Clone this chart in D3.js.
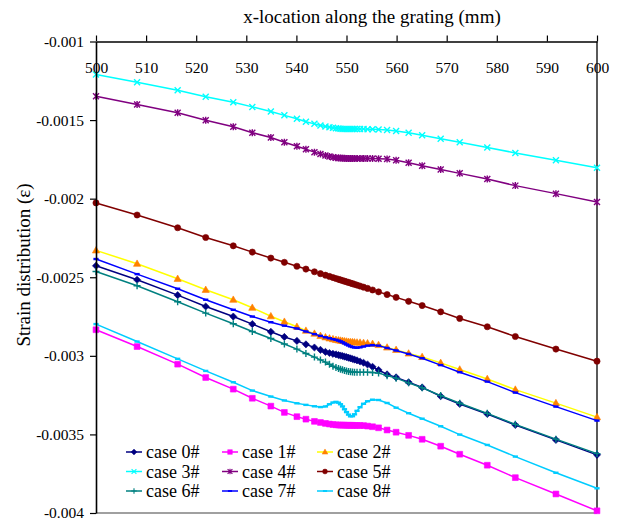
<!DOCTYPE html>
<html>
<head>
<meta charset="utf-8">
<script src="https://cdn.jsdelivr.net/npm/d3@7"></script>
<style>
    body { margin: 0; background: #fff; }
    svg { display: block; font-family: "Liberation Serif", "Times New Roman", serif; }
</style>
</head>
<body>
<div id="chart"></div>
<script>
//-----------------------------Data
// node positions along the grating (mm)
var xLoc = [500, 508.2, 516.3, 521.9, 527.4, 531.2, 534.9, 537.6, 540.1, 541.9,
    543.6, 544.8, 545.8, 546.6, 547.3, 547.9, 548.4, 548.8, 549.2, 549.6,
    550, 550.4, 550.8, 551.2, 551.6, 552.1, 552.7, 553.4, 554.2, 555.2,
    556.4, 558.1, 559.9, 562.4, 565.1, 568.8, 572.6, 578.1, 583.7, 591.8, 600];

var case0 = [-0.002427, -0.002516, -0.002614, -0.002686, -0.002750, -0.002798, -0.002847, -0.002880, -0.002905, -0.002927,
    -0.002947, -0.002962, -0.002975, -0.002982, -0.002987, -0.002991, -0.002995, -0.002998, -0.003001, -0.003005,
    -0.003008, -0.003012, -0.003016, -0.003020, -0.003024, -0.003029, -0.003036, -0.003044, -0.003055, -0.003070,
    -0.003090, -0.003118, -0.003137, -0.003168, -0.003201, -0.003257, -0.003306, -0.003370, -0.003440, -0.003535, -0.003630];
var case1 = [-0.002834, -0.002941, -0.003053, -0.003138, -0.003212, -0.003270, -0.003320, -0.003360, -0.003387, -0.003403,
    -0.003417, -0.003424, -0.003430, -0.003434, -0.003437, -0.003439, -0.003440, -0.003441, -0.003441, -0.003441,
    -0.003442, -0.003442, -0.003442, -0.003442, -0.003443, -0.003443, -0.003443, -0.003444, -0.003447, -0.003451,
    -0.003458, -0.003472, -0.003486, -0.003506, -0.003531, -0.003575, -0.003626, -0.003696, -0.003775, -0.003879, -0.003986];
var case2 = [-0.002329, -0.002414, -0.002510, -0.002580, -0.002643, -0.002694, -0.002748, -0.002783, -0.002815, -0.002840,
    -0.002859, -0.002873, -0.002882, -0.002889, -0.002894, -0.002898, -0.002901, -0.002903, -0.002905, -0.002907,
    -0.002909, -0.002911, -0.002912, -0.002913, -0.002914, -0.002915, -0.002916, -0.002918, -0.002920, -0.002924,
    -0.002931, -0.002947, -0.002962, -0.002985, -0.003007, -0.003045, -0.003087, -0.003147, -0.003215, -0.003301, -0.003390];
var case3 = [-0.001210, -0.001259, -0.001310, -0.001352, -0.001386, -0.001416, -0.001445, -0.001470, -0.001492, -0.001510,
    -0.001524, -0.001534, -0.001541, -0.001546, -0.001549, -0.001552, -0.001554, -0.001555, -0.001556, -0.001556,
    -0.001557, -0.001557, -0.001557, -0.001557, -0.001557, -0.001557, -0.001557, -0.001557, -0.001558, -0.001559,
    -0.001560, -0.001563, -0.001569, -0.001581, -0.001596, -0.001619, -0.001641, -0.001674, -0.001709, -0.001756, -0.001803];
var case4 = [-0.001348, -0.001401, -0.001454, -0.001501, -0.001543, -0.001580, -0.001611, -0.001641, -0.001667, -0.001686,
    -0.001704, -0.001716, -0.001726, -0.001732, -0.001736, -0.001739, -0.001741, -0.001742, -0.001743, -0.001743,
    -0.001744, -0.001744, -0.001744, -0.001744, -0.001744, -0.001744, -0.001744, -0.001744, -0.001745, -0.001745,
    -0.001746, -0.001748, -0.001756, -0.001772, -0.001790, -0.001814, -0.001839, -0.001875, -0.001917, -0.001968, -0.002021];
var case5 = [-0.002027, -0.002104, -0.002185, -0.002247, -0.002300, -0.002340, -0.002378, -0.002405, -0.002430, -0.002448,
    -0.002465, -0.002477, -0.002487, -0.002495, -0.002502, -0.002508, -0.002513, -0.002517, -0.002521, -0.002525,
    -0.002529, -0.002533, -0.002537, -0.002541, -0.002545, -0.002550, -0.002556, -0.002563, -0.002571, -0.002581,
    -0.002593, -0.002610, -0.002628, -0.002653, -0.002680, -0.002720, -0.002762, -0.002815, -0.002877, -0.002957, -0.003034];
var case6 = [-0.002463, -0.002554, -0.002656, -0.002728, -0.002796, -0.002845, -0.002890, -0.002925, -0.002957, -0.002985,
    -0.003008, -0.003026, -0.003040, -0.003054, -0.003066, -0.003074, -0.003080, -0.003085, -0.003089, -0.003093,
    -0.003096, -0.003099, -0.003101, -0.003103, -0.003104, -0.003105, -0.003105, -0.003105, -0.003105, -0.003106,
    -0.003110, -0.003126, -0.003142, -0.003172, -0.003203, -0.003253, -0.003302, -0.003366, -0.003436, -0.003530, -0.003622];
var case7 = [-0.002384, -0.002480, -0.002573, -0.002643, -0.002707, -0.002750, -0.002786, -0.002808, -0.002826, -0.002845,
    -0.002862, -0.002873, -0.002882, -0.002888, -0.002894, -0.002898, -0.002903, -0.002908, -0.002914, -0.002921,
    -0.002928, -0.002934, -0.002940, -0.002944, -0.002947, -0.002948, -0.002946, -0.002941, -0.002935, -0.002932,
    -0.002935, -0.002950, -0.002966, -0.002988, -0.003015, -0.003059, -0.003104, -0.003164, -0.003234, -0.003323, -0.003412];
var case8 = [-0.002798, -0.002909, -0.003019, -0.003096, -0.003168, -0.003221, -0.003259, -0.003284, -0.003302, -0.003312,
    -0.003321, -0.003326, -0.003322, -0.003308, -0.003297, -0.003293, -0.003298, -0.003308, -0.003322, -0.003340,
    -0.003358, -0.003374, -0.003385, -0.003384, -0.003372, -0.003350, -0.003327, -0.003305, -0.003289, -0.003279,
    -0.003281, -0.003300, -0.003330, -0.003365, -0.003400, -0.003448, -0.003501, -0.003567, -0.003641, -0.003744, -0.003843];

var caseNames = ["case 0#", "case 1#", "case 2#", "case 3#", "case 4#", "case 5#", "case 6#", "case 7#", "case 8#"];
var xTicks = [500, 510, 520, 530, 540, 550, 560, 570, 580, 590, 600];
var yTicks = [-0.001, -0.0015, -0.002, -0.0025, -0.003, -0.0035, -0.004];
var yTickLabels = ["-0.001", "-0.0015", "-0.002", "-0.0025", "-0.003", "-0.0035", "-0.004"];

//-----------------------------Styles
var lineColors = ["#000080", "#FF00FF", "#FFFF00", "#00FFFF", "#800080", "#800000", "#008080", "#0000FF", "#00CCFF"];
var markColors = ["#000080", "#FF00FF", "#FF8000", "#00FFFF", "#800080", "#800000", "#008080", "#0000FF", "#00CCFF"];
var markTypes = ["diamond", "square", "triangle", "x", "asterisk", "circle", "plus", "dash", "dash"];

var w = 618;
var h = 518;
var plotLeft = 96;
var plotRight = 597;
var plotTop = 41.5;
var plotBottom = 513;

var allCases = [case0, case1, case2, case3, case4, case5, case6, case7, case8];
var series = allCases.map(function(vals, i) {
    return {
        name: caseNames[i],
        points: xLoc.map(function(x, j) { return { x: x, y: vals[j] }; }),
        color: lineColors[i],
        mColor: markColors[i],
        mark: markTypes[i]
    };
});

var x = d3.scaleLinear().domain([500, 600]).range([plotLeft, plotRight]);
var y = d3.scaleLinear().domain([-0.001, -0.004]).range([plotTop, plotBottom]);

var svg = d3.select("#chart")
    .append("svg")
    .attr("width", w)
    .attr("height", h);

// marker shapes, filled ones and stroked ones
function markPath(type) {
    switch (type) {
        case "diamond": return "M0,-3.6L3.6,0L0,3.6L-3.6,0Z";
        case "square": return "M-2.9,-2.9H2.9V2.9H-2.9Z";
        case "triangle": return "M0,-3.8L3.6,2.6L-3.6,2.6Z";
        case "circle": return "M3.1,0A3.1,3.1 0 1,1 -3.1,0A3.1,3.1 0 1,1 3.1,0Z";
        case "x": return "M-3,-3L3,3M-3,3L3,-3";
        case "asterisk": return "M-3,-3L3,3M-3,3L3,-3M0,-3.5V3.5";
        case "plus": return "M-3.5,0H3.5M0,-3.5V3.5";
        case "dash": return "M-2.6,0H2.6";
    }
}

function isFilled(type) {
    return type == "diamond" || type == "square" || type == "triangle" || type == "circle";
}

function drawMark(g, type, color) {
    g.append("path")
        .attr("d", markPath(type))
        .attr("fill", isFilled(type) ? color : "none")
        .attr("stroke", color)
        .attr("stroke-width", isFilled(type) ? 0.6 : (type == "dash" ? 2.4 : 1.4));
}

//-----------------------------Frame
svg.append("line")
    .attr("x1", plotLeft).attr("x2", plotRight)
    .attr("y1", plotBottom).attr("y2", plotBottom)
    .attr("stroke", "#808080")
    .attr("stroke-width", 1.5);
svg.append("line")
    .attr("x1", plotRight).attr("x2", plotRight)
    .attr("y1", plotTop).attr("y2", plotBottom)
    .attr("stroke", "#000")
    .attr("stroke-width", 1.3);

//-----------------------------Series
var line = d3.line()
    .x(function(d) { return x(d.x); })
    .y(function(d) { return y(d.y); });

series.forEach(function(s) {
    var g = svg.append("g");
    g.append("path")
        .datum(s.points)
        .attr("d", line)
        .attr("fill", "none")
        .attr("stroke", s.color)
        .attr("stroke-width", 1.5);
    g.selectAll("g.mark")
        .data(s.points)
        .enter()
        .append("g")
        .attr("class", "mark")
        .attr("transform", function(d) {
            return "translate(" + x(d.x) + "," + y(d.y) + ")";
        })
        .each(function() {
            drawMark(d3.select(this), s.mark, s.mColor);
        });
});

//-----------------------------Axes
var xAxis = svg.append("g")
    .attr("transform", "translate(0," + plotTop + ")")
    .call(d3.axisTop(x).tickValues(xTicks).tickSize(6).tickSizeOuter(0));
xAxis.selectAll("text")
    .attr("y", 31)
    .attr("dy", 0)
    .attr("fill", "#000")
    .attr("font-size", "15.5px")
    .attr("font-family", "Liberation Serif, Times New Roman, serif");

var yAxis = svg.append("g")
    .attr("transform", "translate(" + plotLeft + ",0)")
    .call(d3.axisLeft(y)
        .tickValues(yTicks)
        .tickSize(6)
        .tickSizeOuter(0)
        .tickPadding(6)
        .tickFormat(function(d, i) { return yTickLabels[i]; }));
yAxis.selectAll("text")
    .attr("fill", "#000")
    .attr("font-size", "15.5px")
    .attr("font-family", "Liberation Serif, Times New Roman, serif");

svg.selectAll(".domain").attr("stroke", "#000").attr("stroke-width", 1.6);
svg.selectAll(".tick line").attr("stroke", "#000").attr("stroke-width", 1.2);

// axis titles
svg.append("text")
    .attr("x", 372)
    .attr("y", 23)
    .attr("text-anchor", "middle")
    .attr("font-size", "19px")
    .text("x-location along the grating (mm)");

svg.append("text")
    .attr("transform", "translate(30,265) rotate(-90)")
    .attr("text-anchor", "middle")
    .attr("font-size", "19px")
    .text("Strain distribution (\u03b5)");

//-----------------------------Legend
var legCols = [126, 222, 317];
var legRows = [452, 471.5, 491];
var legend = svg.selectAll("g.legend")
    .data(series)
    .enter()
    .append("g")
    .attr("class", "legend")
    .attr("transform", function(d, i) {
        return "translate(" + legCols[i % 3] + "," + legRows[Math.floor(i / 3)] + ")";
    });
legend.append("line")
    .attr("x1", 0).attr("x2", 16)
    .attr("stroke", function(d) { return d.color; })
    .attr("stroke-width", 1.5);
legend.append("g")
    .attr("transform", "translate(8,0) scale(0.8)")
    .each(function(d) {
        drawMark(d3.select(this), d.mark, d.mColor);
    });
legend.append("text")
    .attr("x", 20)
    .attr("dy", "0.34em")
    .attr("font-size", "18px")
    .text(function(d) { return d.name; });
</script>
</body>
</html>
